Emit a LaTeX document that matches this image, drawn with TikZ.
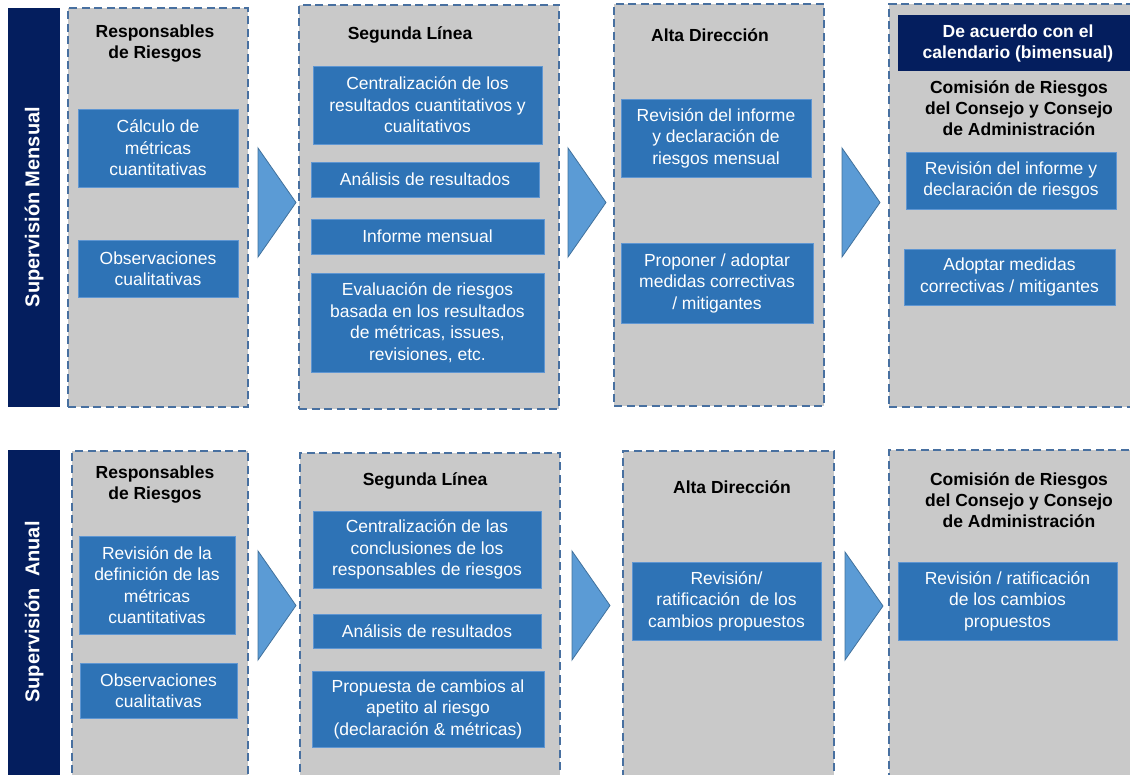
\documentclass[tikz,border=0pt]{standalone}
\usepackage{fontspec}
\setmainfont{Liberation Sans}
\usepackage{tikz}
\usetikzlibrary{calc}
\definecolor{navy}{RGB}{4,30,94}
\definecolor{panelgray}{RGB}{201,201,201}
\definecolor{panelline}{RGB}{72,112,160}
\definecolor{boxblue}{RGB}{46,115,182}
\definecolor{boxedge}{RGB}{95,150,210}
\definecolor{arrowblue}{RGB}{91,155,213}
\definecolor{arrowedge}{RGB}{65,113,156}

\begin{document}
\begin{tikzpicture}[x=1pt, y=-1pt,
    sz/.style 2 args={minimum width=#1pt, minimum height=#2pt},
    panel/.style={draw=panelline, dash pattern=on 8pt off 4.5pt, line width=1.6pt, fill=panelgray, inner sep=0pt},
    bluebox/.style={fill=boxblue, draw=boxedge, line width=0.6pt, text=white, align=center, inner sep=0pt, font=\fontsize{17.5}{21.5}\selectfont},
    title/.style={align=center, inner sep=0pt, font=\bfseries\fontsize{17.5}{21}\selectfont},
    bar/.style={fill=navy, inner sep=0pt},
    bartext/.style={text=white, rotate=90, inner sep=0pt, font=\bfseries\fontsize{20}{24}\selectfont},
    tri/.style={fill=arrowblue, draw=arrowedge, line width=0.8pt, line join=miter}]

    \useasboundingbox (0,0) rectangle (1130,775);
    \clip (0,0) rectangle (1130,775);

    % Supervision mensual
    \node[bar, sz={52}{399}] (m0) at (34,207.5) {};
    \node[bartext] (m0t) at (34,207) {Supervisión Mensual};

    \node[panel, sz={180}{399}] (m1) at (158,207.5) {};
    \node[title] (m1t) at (155,43.5) {Responsables\\de Riesgos};
    \node[bluebox, sz={160}{78}] (m1a) at (158,148) {Cálculo de\\métricas\\cuantitativas};
    \node[bluebox, sz={160}{57}] (m1b) at (158,268.5) {Observaciones\\cualitativas};
    \draw[tri] (258,148) -- (296,202.5) -- (258,257) -- cycle;

    \node[panel, sz={260}{404}] (m2) at (429,207) {};
    \node[title] (m2t) at (410,35) {Segunda Línea};
    \node[bluebox, sz={229}{78}] (m2a) at (427.5,105) {Centralización de los\\resultados cuantitativos y\\cualitativos};
    \node[bluebox, sz={228}{35}] (m2b) at (425,179.5) {Análisis de resultados};
    \node[bluebox, sz={233}{35}] (m2c) at (427.5,236.5) {Informe mensual};
    \node[bluebox, sz={233}{99}] (m2d) at (427.5,322.5) {Evaluación de riesgos\\basada en los resultados\\de métricas, issues,\\revisiones, etc.};
    \draw[tri] (568,148) -- (606,202.5) -- (568,257) -- cycle;

    \node[panel, sz={210}{402}] (m3) at (719,205) {};
    \node[title] (m3t) at (710,35) {Alta Dirección};
    \node[bluebox, sz={190}{78}] (m3a) at (716,138) {Revisión del informe\\y declaración de\\riesgos mensual};
    \node[bluebox, sz={192}{80}] (m3b) at (717,283) {Proponer / adoptar\\medidas correctivas\\/ mitigantes};
    \draw[tri] (842,148) -- (880,202.5) -- (842,257) -- cycle;

    \node[panel, sz={246}{403}] (m4) at (1012,205.5) {};
    \node[bar, sz={240}{56}, text=white, align=center, font=\bfseries\fontsize{17.5}{21}\selectfont] (m4h) at (1018,43) {De acuerdo con el\\calendario (bimensual)};
    \node[title] (m4t) at (1019,108.5) {Comisión de Riesgos\\del Consejo y Consejo\\de Administración};
    \node[bluebox, sz={210}{57}] (m4a) at (1011,180.5) {Revisión del informe y\\declaración de riesgos};
    \node[bluebox, sz={211}{56}] (m4b) at (1009.5,277) {Adoptar medidas\\correctivas / mitigantes};

    % Supervision anual
    \node[bar, sz={52}{335}] (a0) at (34,617.5) {};
    \node[bartext] (a0t) at (34,612) {Supervisión\ \ Anual};

    \node[panel, sz={176}{334}] (a1) at (160,618) {};
    \node[title] (a1t) at (155,484.5) {Responsables\\de Riesgos};
    \node[bluebox, sz={156}{98}] (a1a) at (157,585) {Revisión de la\\definición de las\\métricas\\cuantitativas};
    \node[bluebox, sz={157}{55}] (a1b) at (158.5,690.5) {Observaciones\\cualitativas};
    \draw[tri] (258,551) -- (296,605.5) -- (258,660) -- cycle;

    \node[panel, sz={260}{332}] (a2) at (430,619) {};
    \node[title] (a2t) at (425,481) {Segunda Línea};
    \node[bluebox, sz={228}{77}] (a2a) at (427,549.5) {Centralización de las\\conclusiones de los\\responsables de riesgos};
    \node[bluebox, sz={228}{34}] (a2b) at (427,631) {Análisis de resultados};
    \node[bluebox, sz={232}{76}] (a2c) at (428,709) {Propuesta de cambios al\\apetito al riesgo\\(declaración \& métricas)};
    \draw[tri] (572,551) -- (610,605.5) -- (572,660) -- cycle;

    \node[panel, sz={211}{334}] (a3) at (728.5,618) {};
    \node[title] (a3t) at (732,487) {Alta Dirección};
    \node[bluebox, sz={189}{78}] (a3a) at (726.5,601) {Revisión/\\ratificación\ \ de los\\cambios propuestos};
    \draw[tri] (845,552) -- (883,606) -- (845,660) -- cycle;

    \node[panel, sz={246}{335}] (a4) at (1012,617.5) {};
    \node[title] (a4t) at (1019,500) {Comisión de Riesgos\\del Consejo y Consejo\\de Administración};
    \node[bluebox, sz={219}{78}] (a4a) at (1007.5,601) {Revisión / ratificación\\de los cambios\\propuestos};

\end{tikzpicture}
\end{document}
